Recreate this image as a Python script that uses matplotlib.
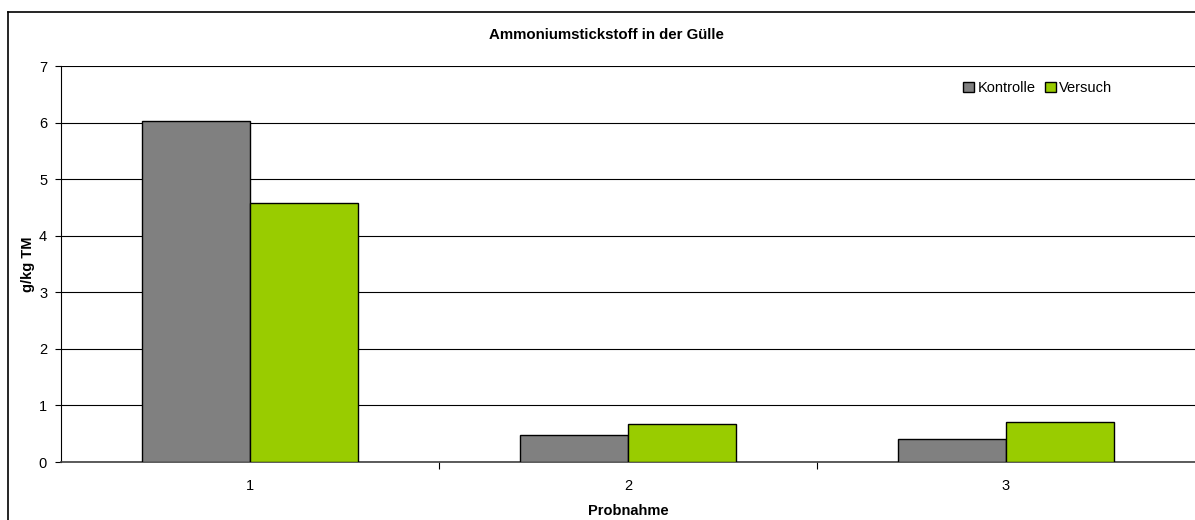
import matplotlib
matplotlib.use("Agg")
import matplotlib.pyplot as plt
from matplotlib.lines import Line2D
import numpy as np

categories = ["1", "2", "3"]
kontrolle = [6.03, 0.47, 0.40]
versuch = [4.57, 0.68, 0.70]
series_names = ["Kontrolle", "Versuch"]
colors = ["#808080", "#99CC00"]
yticks = [0, 1, 2, 3, 4, 5, 6, 7]

plt.rcParams['font.family'] = ['Liberation Sans', 'DejaVu Sans']

fig = plt.figure(figsize=(11.95, 5.20), dpi=100)
ax = fig.add_axes([61/1195, 1-462/520, 1-61/1195, (462-66)/520])

x = np.arange(len(categories))
w = 0.287
ax.bar(x - w/2, kontrolle, w, color=colors[0], edgecolor="black", linewidth=1, label=series_names[0], zorder=3)
ax.bar(x + w/2, versuch, w, color=colors[1], edgecolor="black", linewidth=1, label=series_names[1], zorder=3)

ax.set_xlim(-0.5, len(categories) - 0.5)
ax.set_ylim(0, 7)
ax.set_yticks(yticks)
ax.set_xticks(x)
ax.set_xticklabels(categories)
ax.set_xticks(np.arange(0.5, len(categories) - 0.5, 1), minor=True)
ax.tick_params(axis='x', which='major', length=0, labelsize=10.5, pad=12)
ax.tick_params(axis='x', which='minor', length=5, width=0.8, color='black')
ax.tick_params(axis='y', length=4, width=0.8, labelsize=10.5, pad=6)
ax.yaxis.grid(True, color='black', linewidth=0.8, zorder=0)
ax.set_axisbelow(True)
for s in ['top', 'right']:
    ax.spines[s].set_visible(False)
ax.spines['left'].set_color('black')
ax.spines['left'].set_linewidth(0.8)
ax.spines['bottom'].set_color('#404040')
ax.spines['bottom'].set_linewidth(1.2)

ax.set_ylabel("g/kg TM", fontsize=10.5, fontweight='bold', labelpad=3)
ax.set_xlabel("Probnahme", fontsize=10.5, fontweight='bold', labelpad=8)
fig.text(606/1195, 1-35/520, "Ammoniumstickstoff in der Gülle", ha='center', va='center',
         fontsize=10.8, fontweight='bold')

leg = ax.legend(loc='center', bbox_to_anchor=((1038-61)/(1195-61), (462-88)/(462-66)),
                ncol=2, frameon=False, fontsize=10.5, handlelength=0.75, handleheight=0.75,
                handletextpad=0.25, columnspacing=0.6, borderaxespad=0)

fig.add_artist(Line2D([8/1195, 1], [1-12/520, 1-12/520], color='black', linewidth=1.2))
fig.add_artist(Line2D([8/1195, 8/1195], [0, 1-12/520], color='black', linewidth=1.2))

fig.savefig("out.png", dpi=100)
